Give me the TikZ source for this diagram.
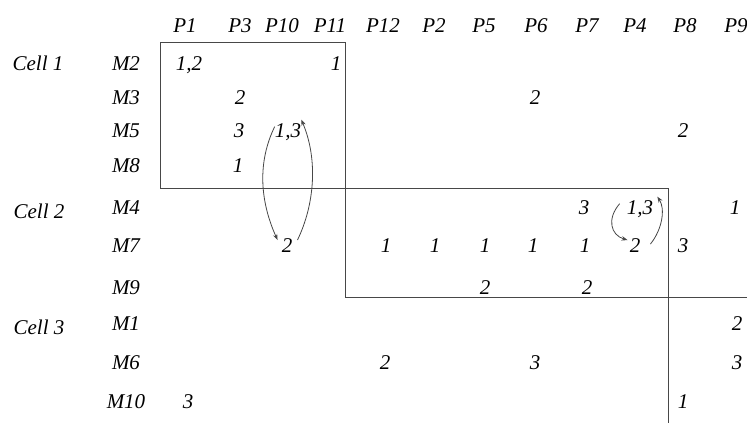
\documentclass[tikz,border=0pt]{standalone}
\usepackage{fontspec}
\setmainfont{Liberation Serif}
\usetikzlibrary{arrows.meta}
\tikzset{
  lbl/.style={anchor=base,inner sep=1pt,font=\fontsize{21}{24}\selectfont\itshape},
  gridline/.style={draw=black!72,line width=0.9pt},
  loop/.style={draw=black!72,line width=0.8pt,-{Stealth[length=6pt,width=4.5pt]}}
}
\begin{document}
\begin{tikzpicture}[x=1pt,y=-1pt]
\useasboundingbox (0,0) rectangle (747,423);
% headers
\foreach \n/\x in {P1/185,P3/240,P10/282,P11/330,P12/383,P2/434,P5/484,P6/536,P7/587,P4/635,P8/685,P9/736}
  \node[lbl] (h\n) at (\x,32) {\n};
% cell labels
\node[lbl] (c1) at (38,70) {Cell 1};
\node[lbl] (c2) at (39,218) {Cell 2};
\node[lbl] (c3) at (39,334) {Cell 3};
% row labels
\foreach \n/\y in {M2/63,M3/97,M5/130,M8/165,M4/207,M7/245,M9/287,M1/323,M6/362,M10/401}
  \node[lbl] (r\n) at (126,\y+7) {\n};
% entries
\node[lbl] (m2p1) at (189,70) {1,2};
\node[lbl] (m2p11) at (336,70) {1};
\node[lbl] (m3p3) at (240,104) {2};
\node[lbl] (m3p6) at (535,104) {2};
\node[lbl] (m5p3) at (239,137) {3};
\node[lbl] (m5p10) at (288,137) {1,3};
\node[lbl] (m5p8) at (683,137) {2};
\node[lbl] (m8p3) at (238,172) {1};
\node[lbl] (m4p7) at (584,214) {3};
\node[lbl] (m4p4) at (640,214) {1,3};
\node[lbl] (m4p9) at (735,214) {1};
\node[lbl] (m7p10) at (287,252) {2};
\node[lbl] (m7p12) at (386,252) {1};
\node[lbl] (m7p2) at (435,252) {1};
\node[lbl] (m7p5) at (485,252) {1};
\node[lbl] (m7p6) at (533,252) {1};
\node[lbl] (m7p7) at (585,252) {1};
\node[lbl] (m7p4) at (635,252) {2};
\node[lbl] (m7p8) at (683,252) {3};
\node[lbl] (m9p5) at (485,294) {2};
\node[lbl] (m9p7) at (587,294) {2};
\node[lbl] (m1p9) at (737,330) {2};
\node[lbl] (m6p12) at (385,369) {2};
\node[lbl] (m6p6) at (535,369) {3};
\node[lbl] (m6p9) at (737,369) {3};
\node[lbl] (m10p1) at (188,408) {3};
\node[lbl] (m10p8) at (683,408) {1};
% cell boundaries
\coordinate (b1tl) at (160.5,42.5);
\coordinate (b1br) at (345,188);
\coordinate (b2tr) at (668,188);
\coordinate (b2bl) at (345,297);
\coordinate (b3bot) at (668,423);
\coordinate (b3right) at (747,297);
\draw[gridline] (b1tl) rectangle (b1br);
\draw[gridline] (b1br) -- (b2tr) -- (b3bot);
\draw[gridline] (b1br) -- (b2bl) -- (b3right);
% loops
\draw[loop] ([shift={(1,-5)}]m5p10.west) .. controls +(-17,35) and +(-18,-40) .. ([shift={(-3,-5)}]m7p10.west);
\draw[loop] ([shift={(4,-5)}]m7p10.east) .. controls +(17,-35) and +(17,40) .. ([shift={(-1,-12)}]m5p10.east);
\draw[loop] ([shift={(-6,-5)}]m4p4.west) .. controls +(-13,15) and +(-17,-5) .. ([shift={(-1,-5)}]m7p4.west);
\draw[loop] ([shift={(9,-1)}]m7p4.east) .. controls +(12,-15) and +(8,12) .. ([shift={(3,-12)}]m4p4.east);
\end{tikzpicture}
\end{document}
